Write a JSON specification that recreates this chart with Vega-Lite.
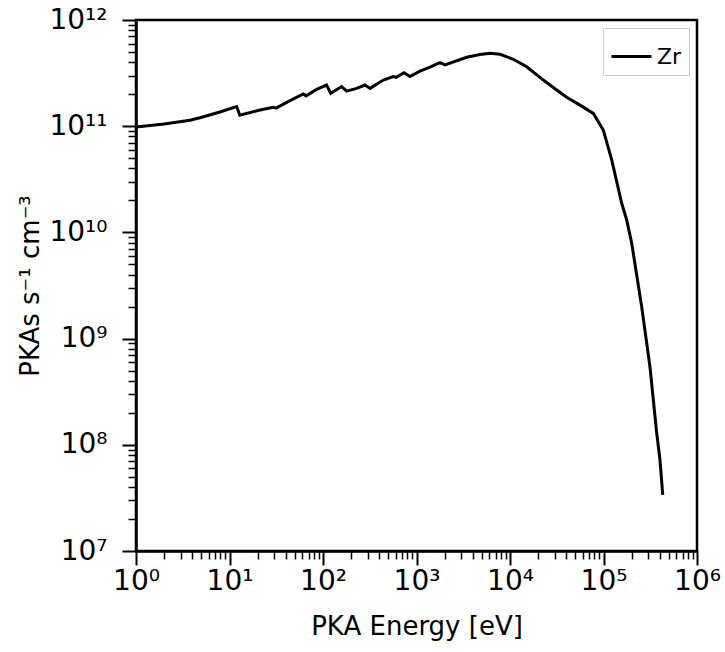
{
  "$schema": "https://vega.github.io/schema/vega-lite/v6.json",
  "autosize": {"type": "none"},
  "padding": {"left": 136, "top": 20, "right": 28, "bottom": 101},
  "width": 561,
  "height": 531,
  "background": "white",
  "config": {
    "font": "DejaVu Sans",
    "view": {"stroke": "black", "strokeWidth": 2.5},
    "axis": {"labelFont": "DejaVu Sans", "titleFont": "DejaVu Sans", "labelColor": "black", "titleColor": "black", "titleFontWeight": "normal", "domainColor": "black", "tickColor": "black", "grid": false}
  },
  "datasets": {
    "pka": [
      {"E": 1, "Y": 9.8e10, "element": "Zr"},
      {"E": 2, "Y": 1.05e11, "element": "Zr"},
      {"E": 3.78, "Y": 1.14e11, "element": "Zr"},
      {"E": 4.84, "Y": 1.2e11, "element": "Zr"},
      {"E": 7.91, "Y": 1.36e11, "element": "Zr"},
      {"E": 11.9, "Y": 1.53e11, "element": "Zr"},
      {"E": 12.9, "Y": 1.27e11, "element": "Zr"},
      {"E": 21.2, "Y": 1.42e11, "element": "Zr"},
      {"E": 29.4, "Y": 1.51e11, "element": "Zr"},
      {"E": 31.5, "Y": 1.48e11, "element": "Zr"},
      {"E": 44.4, "Y": 1.74e11, "element": "Zr"},
      {"E": 61.5, "Y": 2.01e11, "element": "Zr"},
      {"E": 66, "Y": 1.93e11, "element": "Zr"},
      {"E": 85.6, "Y": 2.22e11, "element": "Zr"},
      {"E": 109, "Y": 2.44e11, "element": "Zr"},
      {"E": 121, "Y": 2.04e11, "element": "Zr"},
      {"E": 158, "Y": 2.36e11, "element": "Zr"},
      {"E": 179, "Y": 2.14e11, "element": "Zr"},
      {"E": 229, "Y": 2.27e11, "element": "Zr"},
      {"E": 281, "Y": 2.44e11, "element": "Zr"},
      {"E": 318, "Y": 2.27e11, "element": "Zr"},
      {"E": 442, "Y": 2.72e11, "element": "Zr"},
      {"E": 565, "Y": 2.93e11, "element": "Zr"},
      {"E": 605, "Y": 2.88e11, "element": "Zr"},
      {"E": 735, "Y": 3.19e11, "element": "Zr"},
      {"E": 851, "Y": 2.93e11, "element": "Zr"},
      {"E": 1090, "Y": 3.3e11, "element": "Zr"},
      {"E": 1393, "Y": 3.6e11, "element": "Zr"},
      {"E": 1784, "Y": 3.97e11, "element": "Zr"},
      {"E": 2018, "Y": 3.77e11, "element": "Zr"},
      {"E": 3443, "Y": 4.46e11, "element": "Zr"},
      {"E": 4780, "Y": 4.74e11, "element": "Zr"},
      {"E": 6110, "Y": 4.86e11, "element": "Zr"},
      {"E": 7820, "Y": 4.76e11, "element": "Zr"},
      {"E": 10840, "Y": 4.27e11, "element": "Zr"},
      {"E": 15100, "Y": 3.63e11, "element": "Zr"},
      {"E": 22700, "Y": 2.72e11, "element": "Zr"},
      {"E": 31600, "Y": 2.19e11, "element": "Zr"},
      {"E": 40360, "Y": 1.87e11, "element": "Zr"},
      {"E": 56100, "Y": 1.58e11, "element": "Zr"},
      {"E": 77800, "Y": 1.32e11, "element": "Zr"},
      {"E": 99500, "Y": 9.2e10, "element": "Zr"},
      {"E": 122400, "Y": 4.81e10, "element": "Zr"},
      {"E": 156600, "Y": 1.88e10, "element": "Zr"},
      {"E": 177000, "Y": 1.31e10, "element": "Zr"},
      {"E": 200400, "Y": 7.89e9, "element": "Zr"},
      {"E": 256000, "Y": 2.0e9, "element": "Zr"},
      {"E": 314000, "Y": 5.43e8, "element": "Zr"},
      {"E": 371000, "Y": 1.28e8, "element": "Zr"},
      {"E": 402000, "Y": 7.2e7, "element": "Zr"},
      {"E": 430000, "Y": 3.37e7, "element": "Zr"}
    ]
  },
  "data": {"name": "pka"},
  "mark": {"type": "line", "strokeWidth": 3, "clip": true},
  "encoding": {
    "x": {
      "field": "E", "type": "quantitative",
      "scale": {"type": "log", "domain": [1, 1000000], "nice": false},
      "axis": {
        "title": "PKA Energy [eV]", "titleFontSize": 26, "titlePadding": 18,
        "values": [1,2,3,4,5,6,7,8,9,10,20,30,40,50,60,70,80,90,100,200,300,400,500,600,700,800,900,1000,2000,3000,4000,5000,6000,7000,8000,9000,10000,20000,30000,40000,50000,60000,70000,80000,90000,100000,200000,300000,400000,500000,600000,700000,800000,900000,1000000],
        "labelExpr": "abs(log(datum.value)/LN10 - round(log(datum.value)/LN10)) < 0.000001 ? '10' + ['⁰','¹','²','³','⁴','⁵','⁶','⁷','⁸','⁹','¹⁰','¹¹','¹²'][round(log(datum.value)/LN10)] : ''",
        "labelFontSize": 28, "labelPadding": 2,
        "tickSize": {"condition": {"test": "abs(log(datum.value)/LN10 - round(log(datum.value)/LN10)) < 0.000001", "value": 14}, "value": 8},
        "tickWidth": {"condition": {"test": "abs(log(datum.value)/LN10 - round(log(datum.value)/LN10)) < 0.000001", "value": 2}, "value": 1.5},
        "domainWidth": 2.5, "labelFlush": false, "labelOverlap": false
      }
    },
    "y": {
      "field": "Y", "type": "quantitative",
      "scale": {"type": "log", "domain": [10000000, 1000000000000], "nice": false},
      "axis": {
        "title": "PKAs s⁻¹ cm⁻³", "titleFontSize": 26, "titlePadding": 5,
        "values": [10000000,20000000,30000000,40000000,50000000,60000000,70000000,80000000,90000000,100000000,200000000,300000000,400000000,500000000,600000000,700000000,800000000,900000000,1000000000,2000000000,3000000000,4000000000,5000000000,6000000000,7000000000,8000000000,9000000000,10000000000,20000000000,30000000000,40000000000,50000000000,60000000000,70000000000,80000000000,90000000000,100000000000,200000000000,300000000000,400000000000,500000000000,600000000000,700000000000,800000000000,900000000000,1000000000000],
        "labelExpr": "abs(log(datum.value)/LN10 - round(log(datum.value)/LN10)) < 0.000001 ? '10' + ['⁰','¹','²','³','⁴','⁵','⁶','⁷','⁸','⁹','¹⁰','¹¹','¹²'][round(log(datum.value)/LN10)] : ''",
        "labelFontSize": 28, "labelPadding": 15,
        "tickSize": {"condition": {"test": "abs(log(datum.value)/LN10 - round(log(datum.value)/LN10)) < 0.000001", "value": 14}, "value": 8},
        "tickWidth": {"condition": {"test": "abs(log(datum.value)/LN10 - round(log(datum.value)/LN10)) < 0.000001", "value": 2}, "value": 1.5},
        "domainWidth": 2.5, "labelFlush": false, "labelOverlap": false
      }
    },
    "color": {
      "field": "element", "type": "nominal",
      "scale": {"range": ["black"]},
      "legend": {
        "title": null, "orient": "top-right", "offset": 8,
        "symbolType": "stroke", "symbolSize": 1600, "symbolStrokeWidth": 3,
        "labelFontSize": 22, "labelFont": "DejaVu Sans", "labelColor": "black",
        "strokeColor": "#cccccc", "fillColor": "white", "padding": 7, "cornerRadius": 0
      }
    }
  }
}
